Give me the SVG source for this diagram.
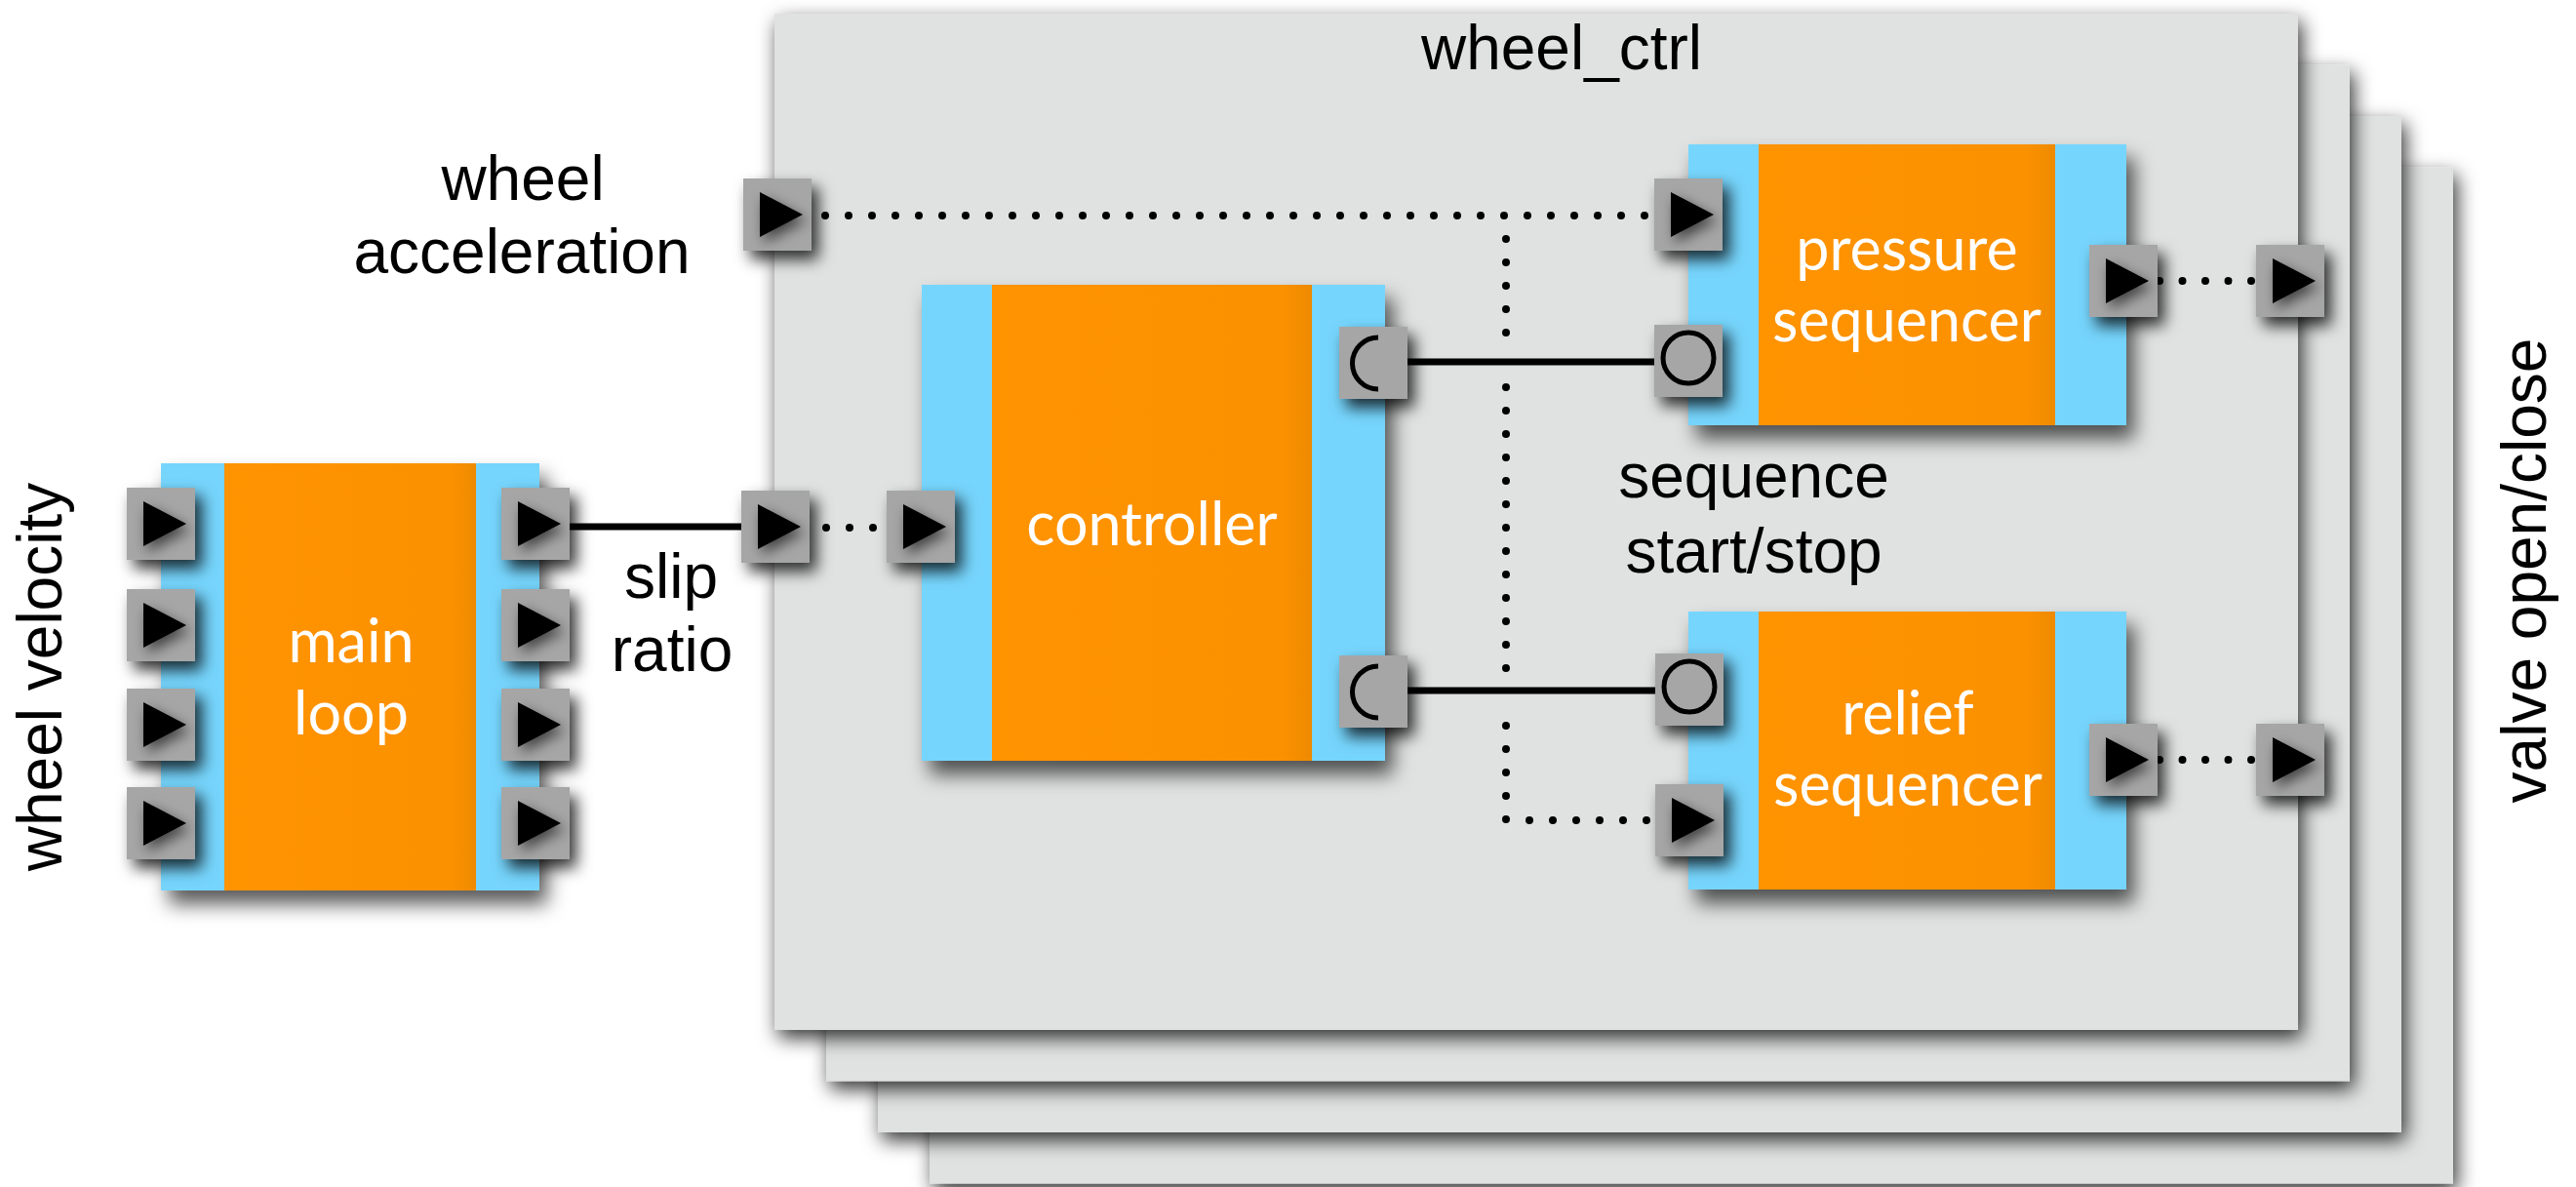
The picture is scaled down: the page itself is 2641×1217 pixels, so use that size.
<svg xmlns="http://www.w3.org/2000/svg" xmlns:xlink="http://www.w3.org/1999/xlink" width="2641" height="1217" viewBox="0 0 2641 1217">
<style>
.lbl{font-family:"Liberation Sans",Arial,sans-serif;font-size:64px;fill:#000;text-anchor:middle}
.blk{font-family:Lato,"Open Sans",sans-serif;font-size:61px;fill:#fff;text-anchor:middle}
.box{fill:#dfe2e1}
.side{fill:#76d5fd}
.core{fill:url(#og)}
.port{fill:#a6a6a6}
.tri{fill:#000}
.solid{stroke:#000;stroke-width:7;fill:none}
.dot{stroke:#000;stroke-width:8;stroke-linecap:round;stroke-dasharray:0 24;fill:none}
.sym{fill:none;stroke:#000;stroke-width:5}
</style>
<defs>
<linearGradient id="og" x1="0" y1="0" x2="1" y2="0">
<stop offset="0" stop-color="#ff9300"/>
<stop offset="0.9" stop-color="#fc9100"/>
<stop offset="1" stop-color="#ee8a00"/>
</linearGradient>
<filter id="bigShadow" x="-5%" y="-5%" width="115%" height="115%">
<feDropShadow dx="4" dy="8" stdDeviation="10" flood-color="#000" flood-opacity="0.8"/>
</filter>
<filter id="blkShadow" x="-10%" y="-10%" width="130%" height="130%">
<feDropShadow dx="8" dy="14" stdDeviation="10" flood-color="#000" flood-opacity="0.65"/>
</filter>
<filter id="portShadow" x="-30%" y="-30%" width="170%" height="170%">
<feDropShadow dx="7" dy="9" stdDeviation="8" flood-color="#000" flood-opacity="0.8"/>
</filter>
<filter id="triShadow" x="-40%" y="-40%" width="190%" height="190%">
<feDropShadow dx="4" dy="6" stdDeviation="7" flood-color="#000" flood-opacity="0.6"/>
</filter>
<g id="pIn" filter="url(#portShadow)">
<rect class="port" width="70" height="74"/>
<path class="tri" d="M17 14 L61 37 L17 60 Z" filter="url(#triShadow)"/>
</g>
<g id="pReq" filter="url(#portShadow)">
<rect class="port" width="70" height="74"/>
<path class="sym" d="M40 11 A26.5 26.5 0 0 0 40 64"/>
</g>
<g id="pProv" filter="url(#portShadow)">
<rect class="port" width="70" height="74"/>
<circle class="sym" cx="35" cy="34" r="26"/>
</g>
</defs>

<g id="wheel_ctrl">
<rect class="box" x="953" y="171.5" width="1562" height="1042" filter="url(#bigShadow)"/>
<rect class="box" x="900" y="119" width="1562" height="1042" filter="url(#bigShadow)"/>
<rect class="box" x="847" y="66.5" width="1562" height="1042" filter="url(#bigShadow)"/>
<rect class="box" x="794" y="14" width="1562" height="1042" filter="url(#bigShadow)"/>
<text class="lbl" x="1601" y="71">wheel_ctrl</text>
</g>

<g id="labels">
<text class="lbl" x="536" y="205">wheel</text>
<text class="lbl" x="535" y="280">acceleration</text>
<text class="lbl" x="688" y="613">slip</text>
<text class="lbl" x="689" y="688">ratio</text>
<text class="lbl" x="1798" y="510">sequence</text>
<text class="lbl" x="1798" y="587">start/stop</text>
<text class="lbl" transform="translate(63,694) rotate(-90)">wheel velocity</text>
<text class="lbl" transform="translate(2610,585) rotate(-90)">valve open/close</text>
</g>

<g id="connectors">
<line class="solid" x1="584" y1="540" x2="762" y2="540"/>
<line class="dot" x1="847" y1="541" x2="900" y2="541"/>
<line class="dot" x1="846" y1="221" x2="1690" y2="221"/>
<line class="dot" x1="1544" y1="245" x2="1544" y2="342"/>
<line class="dot" x1="1544" y1="397" x2="1544" y2="686"/>
<line class="dot" x1="1544" y1="744" x2="1544" y2="841"/>
<line class="dot" x1="1568" y1="841" x2="1690" y2="841"/>
<line class="solid" x1="1443" y1="371" x2="1698" y2="371"/>
<line class="solid" x1="1443" y1="708" x2="1698" y2="708"/>
<line class="dot" x1="2214" y1="288" x2="2310" y2="288" style="stroke-dasharray:0 23.5"/>
<line class="dot" x1="2214" y1="779" x2="2310" y2="779" style="stroke-dasharray:0 23.5"/>
</g>

<g id="ports_outer">
<use xlink:href="#pIn" x="762" y="183"/>
<use xlink:href="#pIn" x="760" y="503"/>
<use xlink:href="#pIn" x="2313" y="251"/>
<use xlink:href="#pIn" x="2313" y="742"/>
</g>

<g id="main_loop">
<g filter="url(#blkShadow)">
<rect class="side" x="165" y="475" width="388" height="438"/>
<rect class="core" x="230" y="475" width="258" height="438"/>
</g>
<text class="blk" x="360" y="679">main</text>
<text class="blk" x="360" y="753">loop</text>
<use xlink:href="#pIn" x="130" y="500"/>
<use xlink:href="#pIn" x="130" y="604"/>
<use xlink:href="#pIn" x="130" y="706"/>
<use xlink:href="#pIn" x="130" y="807"/>
<use xlink:href="#pIn" x="514" y="500"/>
<use xlink:href="#pIn" x="514" y="604"/>
<use xlink:href="#pIn" x="514" y="706"/>
<use xlink:href="#pIn" x="514" y="807"/>
</g>

<g id="controller">
<g filter="url(#blkShadow)">
<rect class="side" x="945" y="292" width="475" height="488"/>
<rect class="core" x="1017" y="292" width="328" height="488"/>
</g>
<text class="blk" x="1181" y="559">controller</text>
<use xlink:href="#pIn" x="909" y="503"/>
<use xlink:href="#pReq" x="1373" y="335"/>
<use xlink:href="#pReq" x="1373" y="672"/>
</g>

<g id="pressure_sequencer">
<g filter="url(#blkShadow)">
<rect class="side" x="1731" y="148" width="449" height="288"/>
<rect class="core" x="1803" y="148" width="304" height="288"/>
</g>
<text class="blk" x="1955" y="277">pressure</text>
<text class="blk" x="1955" y="350">sequencer</text>
<use xlink:href="#pIn" x="1696" y="183"/>
<use xlink:href="#pProv" x="1696" y="333"/>
<use xlink:href="#pIn" x="2142" y="251"/>
</g>

<g id="relief_sequencer">
<g filter="url(#blkShadow)">
<rect class="side" x="1731" y="627" width="449" height="285"/>
<rect class="core" x="1803" y="627" width="304" height="285"/>
</g>
<text class="blk" x="1956" y="753">relief</text>
<text class="blk" x="1956" y="826">sequencer</text>
<use xlink:href="#pProv" x="1697" y="670"/>
<use xlink:href="#pIn" x="1697" y="804"/>
<use xlink:href="#pIn" x="2142" y="742"/>
</g>
</svg>
